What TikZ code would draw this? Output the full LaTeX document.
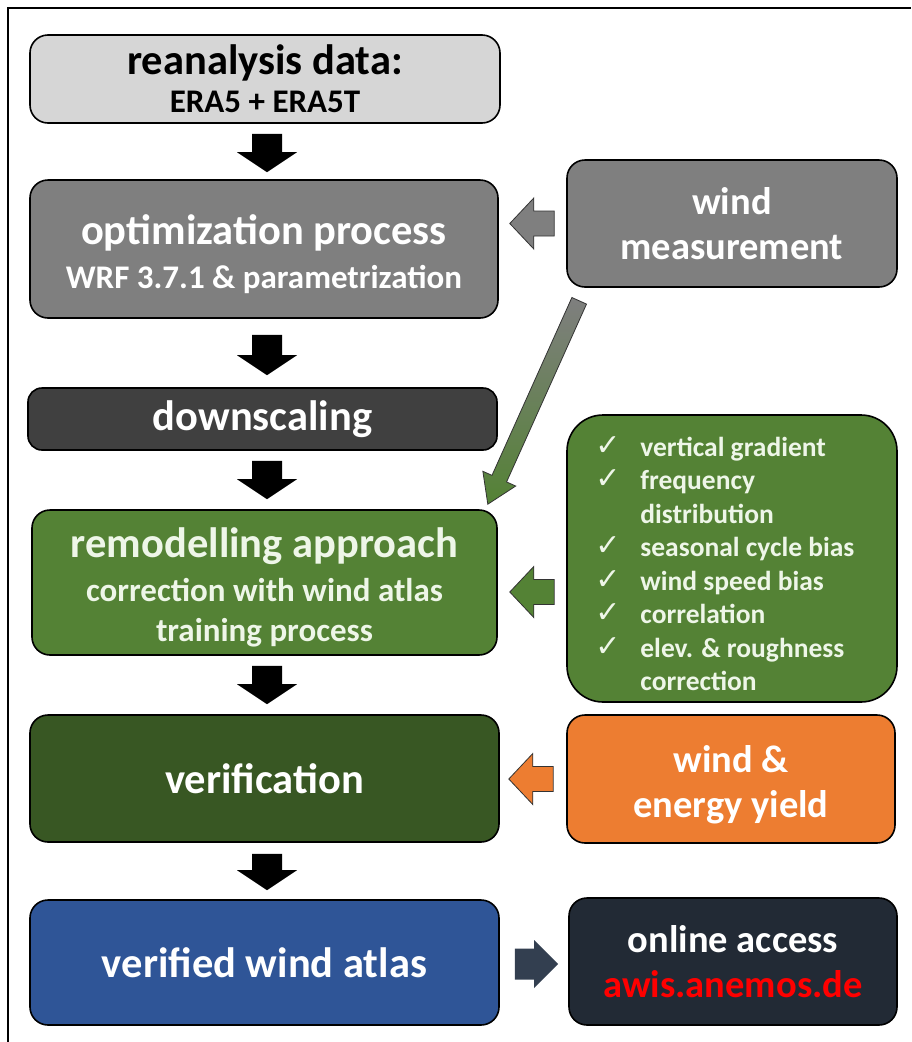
\documentclass[tikz,border=0pt]{standalone}
\usepackage{fontspec}
\setmainfont{Carlito}
\newfontfamily\symfont{DejaVu Sans}
\usetikzlibrary{calc}

\definecolor{boxlight}{HTML}{D6D6D6}
\definecolor{boxgray}{HTML}{7F7F7F}
\definecolor{boxdark}{HTML}{404040}
\definecolor{boxgreen}{HTML}{548235}
\definecolor{boxforest}{HTML}{385723}
\definecolor{boxorange}{HTML}{ED7D31}
\definecolor{boxblue}{HTML}{2F5597}
\definecolor{boxnavy}{HTML}{222A35}
\definecolor{arrslate}{HTML}{333F50}
\definecolor{greentext}{HTML}{EEF6E8}
\definecolor{linkred}{HTML}{FF0000}

\newcommand\titlef{\fontsize{42.5}{44}\selectfont\bfseries}
\newcommand\subf{\fontsize{33}{40}\selectfont\bfseries}
\newcommand\sidef{\fontsize{38.5}{45}\selectfont\bfseries}
\newcommand\listf{\fontsize{27.5}{33.5}\selectfont\bfseries}
\newcommand\tick{\makebox[45pt][l]{\raisebox{1pt}{\symfont\fontsize{30}{30}\selectfont ✓}}}
\newcommand\toppad{\rule{0pt}{40pt}}

% block arrow from tail #2 to tip #3: shaft half width #4, head half width #5, head length #6
\newcommand\blockarrow[6]{%
  \path[#1]
    ($(#2)!#4pt!90:(#3)$)
    -- ($($(#3)!#6pt!(#2)$)!#4pt!90:(#3)$)
    -- ($($(#3)!#6pt!(#2)$)!#5pt!90:(#3)$)
    -- (#3)
    -- ($($(#3)!#6pt!(#2)$)!#5pt!-90:(#3)$)
    -- ($($(#3)!#6pt!(#2)$)!#4pt!-90:(#3)$)
    -- ($(#2)!#4pt!-90:(#3)$)
    -- cycle;%
}

\begin{document}
\begin{tikzpicture}[x=1pt,y=-1pt,
  box/.style={draw=black, line width=1.6pt, rounded corners=18pt, align=center,
    text=white, inner sep=0pt},
  downarrow/.style={fill=black},
  sidearrow/.style={draw=black!80, line width=0.8pt, fill=#1},
]
\useasboundingbox (0,0) rectangle (911,1042);
\fill[white] (0,0) rectangle (911,1042);
% outer frame
\draw[line width=2pt] (8,1042) -- (8,8) -- (911,8);

% left column
\node[box, fill=boxlight, text=black, minimum width=470pt, minimum height=88pt, font=\titlef]
  (rea) at (265,79) {reanalysis data:\\[-6pt]\subf ERA5 + ERA5T};
\node[box, fill=boxgray, minimum width=468pt, minimum height=138pt, font=\titlef]
  (opt) at (264,249) {\toppad optimization process\\\subf WRF 3.7.1 \& parametrization};
\node[box, fill=boxdark, minimum width=469pt, minimum height=62pt, rounded corners=14pt, font=\titlef]
  (down) at (262.5,419) {downscaling};
\node[box, fill=boxgreen, text=greentext, minimum width=465pt, minimum height=145pt, font=\titlef]
  (remod) at (264.5,582.5) {\toppad remodelling approach\\\subf correction with wind atlas\\[-4pt]\subf training process};
\node[box, fill=boxforest, minimum width=469pt, minimum height=127pt, font=\titlef]
  (verif) at (264.5,778.5) {verification};
\node[box, fill=boxblue, minimum width=469pt, minimum height=125pt, font=\titlef]
  (atlas) at (264.5,962.5) {verified wind atlas};

% right column
\node[box, fill=boxgray, minimum width=330pt, minimum height=127pt, font=\sidef]
  (meas) at (732,223.5) {wind\\measurement};
\node[box, fill=boxgreen, minimum width=330pt, minimum height=287pt, rounded corners=36pt]
  (checks) at (732,558.5) {};
\node[anchor=north west, inner sep=0pt, align=left, text=greentext, font=\listf]
  (checklist) at ($(checks.north west)+(29,22)$) {%
    \tick vertical gradient\\
    \tick frequency\\
    \hspace*{45pt}distribution\\
    \tick seasonal cycle bias\\
    \tick wind speed bias\\
    \tick correlation\\
    \tick elev. \& roughness\\
    \hspace*{45pt}correction};
\node[box, fill=boxorange, minimum width=328pt, minimum height=128pt, font=\sidef]
  (yield) at (731,779) {\rule{0pt}{38pt}wind \&\\energy yield};
\node[box, fill=boxnavy, minimum width=328pt, minimum height=127pt, font=\sidef]
  (online) at (733,961.5) {online access\\\color{linkred}awis.anemos.de};

% main flow arrows
\blockarrow{downarrow}{$(rea.south)+(2,10)$}{$(opt.north)+(3,-7)$}{15}{30}{20}
\blockarrow{downarrow}{$(opt.south)+(3,16)$}{$(down.north)+(4.5,-12)$}{15}{30}{20}
\blockarrow{downarrow}{$(down.south)+(4.5,10)$}{$(remod.north)+(2.5,-10)$}{15}{30}{20}
\blockarrow{downarrow}{$(remod.south)+(2.5,10)$}{$(verif.north)+(2.5,-10)$}{15}{30}{20}
\blockarrow{downarrow}{$(verif.south)+(2.5,11)$}{$(atlas.north)+(2.5,-9)$}{15}{30}{20}

% side inputs
\coordinate (gt) at ($(meas.west)+(-12,0)$);
\coordinate (gh) at ($(opt.east |- gt)+(11,0)$);
\blockarrow{sidearrow=boxgray}{gt}{gh}{12.5}{25.5}{24}

\coordinate (ct) at ($(checks.west)+(-12,33.5)$);
\coordinate (ch) at ($(remod.east |- ct)+(12,0)$);
\blockarrow{sidearrow=boxgreen}{ct}{ch}{12.5}{25.5}{24}

\coordinate (yt) at ($(yield.west)+(-13,0)$);
\coordinate (yh) at ($(verif.east |- yt)+(9,0)$);
\blockarrow{sidearrow=boxorange}{yt}{yh}{12.5}{25.5}{24}

\coordinate (at) at ($(atlas.east)+(15,1.5)$);
\coordinate (ah) at ($(online.west |- at)+(-10,0)$);
\blockarrow{fill=arrslate}{at}{ah}{15.5}{24}{24}

% measurements feed the remodelling step
\coordinate (mt) at ($(meas.south west)+(13,13)$);
\coordinate (mh) at ($(remod.north east)+(-10,-5)$);
\blockarrow{draw=black!80, line width=0.8pt, top color=boxgray, bottom color=boxgreen}{mt}{mh}{8}{18}{28}
\end{tikzpicture}
\end{document}
